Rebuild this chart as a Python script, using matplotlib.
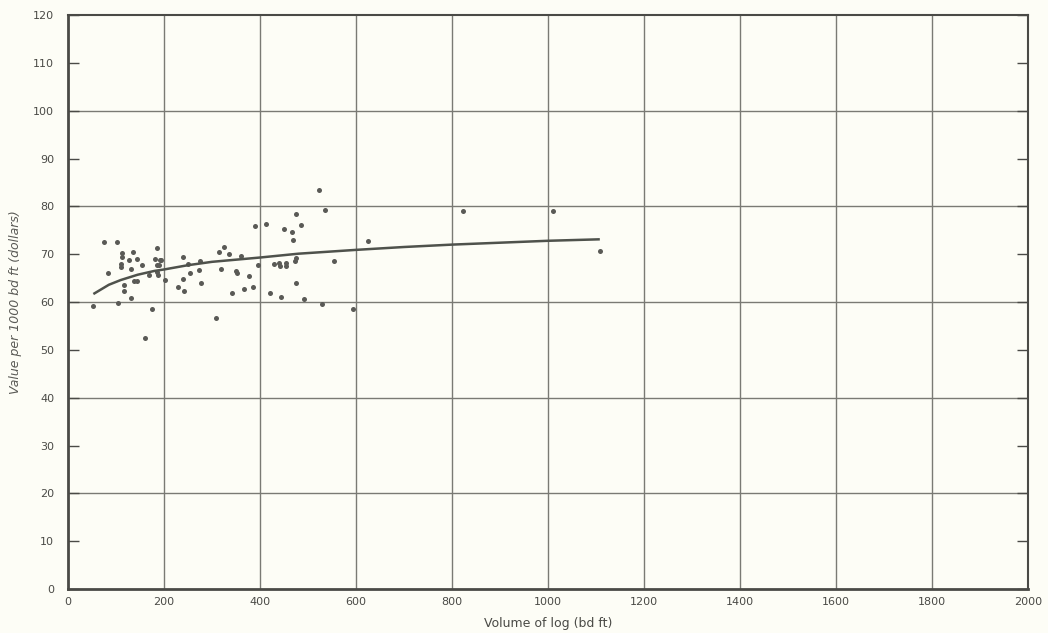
import matplotlib.pyplot as plt

# log volume (bd ft) and value per 1000 bd ft (dollars)
volume = [51, 74, 84, 103, 104, 110, 110, 112, 112, 116, 116, 126, 131, 131,
          135, 137, 143, 143, 154, 160, 169, 174, 182, 185, 185, 186, 188, 189,
          191, 193, 202, 230, 239, 240, 242, 250, 254, 272, 275, 277, 309, 314,
          318, 324, 336, 342, 349, 352, 360, 366, 376, 385, 390, 396, 413, 421,
          428, 440, 441, 444, 450, 453, 453, 466, 469, 473, 475, 474, 474, 485,
          492, 522, 529, 535, 553, 593, 624, 822, 1010, 1109]
value = [59.1, 72.5, 66.1, 72.5, 59.7, 67.9, 67.4, 70.2, 69.5, 63.5, 62.3, 68.8,
         66.8, 60.8, 70.5, 64.3, 64.4, 68.9, 67.7, 52.5, 65.6, 58.5, 68.9, 71.2,
         67.8, 66.3, 65.7, 67.7, 68.7, 68.7, 64.5, 63.1, 69.4, 64.9, 62.4, 67.9,
         66.1, 66.7, 68.6, 64.0, 56.7, 70.5, 67.0, 71.6, 70.0, 61.8, 66.5, 66.1,
         69.6, 62.8, 65.5, 63.1, 75.9, 67.8, 76.3, 61.8, 67.9, 68.1, 67.6, 61.1,
         75.3, 68.1, 67.6, 74.7, 73.0, 68.5, 69.3, 64.0, 78.5, 76.0, 60.6, 83.5,
         59.5, 79.2, 68.6, 58.5, 72.8, 79.1, 79.0, 70.6]

# fitted curve, read at points along it
curve_x = [55, 85, 110, 145, 180, 200, 250, 300, 400, 480, 600, 700, 800, 900,
           1000, 1105]
curve_y = [61.8, 63.6, 64.6, 65.7, 66.5, 66.8, 67.7, 68.4, 69.3, 70.1, 70.9,
           71.5, 72.0, 72.4, 72.8, 73.1]

bg = '#fdfdf6'
ink = '#4a4a46'

fig = plt.figure(figsize=(10.48, 6.33), dpi=100, facecolor=bg)
ax = fig.add_axes([0.0649, 0.0695, 0.9163, 0.9068], facecolor=bg)

ax.scatter(volume, value, s=13, color='#5a5a56', zorder=3, linewidths=0)
ax.plot(curve_x, curve_y, color='#4f524c', lw=1.8, zorder=3)

ax.set_xlim(0, 2000)
ax.set_ylim(0, 120)
ax.set_xticks(range(0, 2001, 200))
ax.set_yticks(range(0, 121, 10))

# grid every 200 in x and every 20 in y
for gx in range(200, 2000, 200):
    ax.axvline(gx, color='#7a7a74', lw=1.0, zorder=1)
for gy in range(20, 120, 20):
    ax.axhline(gy, color='#7a7a74', lw=1.0, zorder=1)

ax.tick_params(axis='y', direction='in', length=8, width=1.0, color=ink,
               labelsize=8, labelcolor=ink, right=True, pad=10)
ax.tick_params(axis='x', length=0, labelsize=8, labelcolor=ink, pad=6)

for side in ['left', 'bottom']:
    ax.spines[side].set_linewidth(2.0)
    ax.spines[side].set_color(ink)
for side in ['top', 'right']:
    ax.spines[side].set_linewidth(1.5)
    ax.spines[side].set_color(ink)

ax.set_xlabel('Volume of log (bd ft)', fontsize=9, color=ink, labelpad=7)
ax.set_ylabel('Value per 1000 bd ft (dollars)', fontsize=9, color='#5a5a56',
              style='italic', labelpad=8)

plt.savefig('out.png', dpi=100, facecolor=bg)
